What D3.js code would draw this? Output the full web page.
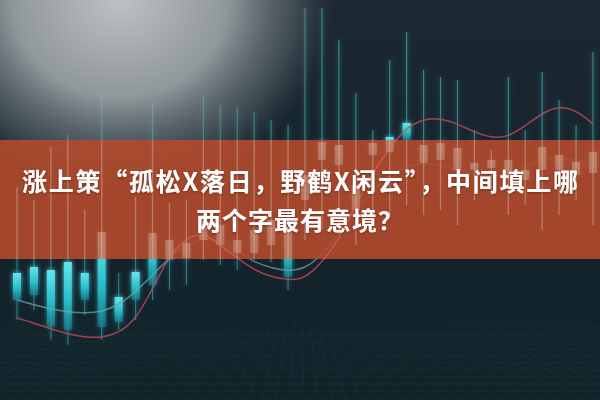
<!DOCTYPE html>
<html>
<head>
<meta charset="utf-8">
<script src="https://cdn.jsdelivr.net/npm/d3@7"></script>
<style>
  html, body { margin: 0; padding: 0; background: #14222b; }
  svg { display: block; }
</style>
</head>
<body>
<div id="chart"></div>
<script>
// candle values (price units, 0..100)
const highs  = [53.25, 50, 63.25, 66.25, 47.5, 75.75, 31.75, 50.75, 74.25, 49.25, 50, 76.25, 73.75, 73.25, 72, 70, 68.75, 98, 98, 90, 76.75, 67.5, 85, 92, 82.5, 80.75, 80, 67.5, 62.5, 80.75, 67.5, 82, 75, 68.75, 87];
const lows   = [20, 22.5, 15, 13.75, 21.25, 15, 17.5, 20, 25, 27.5, 28.75, 35, 33.75, 32.5, 35, 34.5, 27.5, 40, 42.5, 41.25, 38.75, 45, 46.25, 48.75, 46.25, 47.5, 43.75, 50, 51.25, 46.25, 48.75, 42.5, 46.25, 50, 43.75];
const opens  = [25, 26.25, 18.25, 17.5, 25, 18.25, 19.5, 25, 28.75, 35, 35.5, 40, 38.75, 36.75, 36.75, 38.75, 30.75, 50, 60, 58.75, 47.5, 61.25, 62, 65, 59.25, 60, 57.5, 57.5, 58, 55, 55, 57.5, 57.5, 56.25, 56.75];
const closes = [31.75, 33.25, 32.5, 34.5, 31.75, 42, 25.75, 32, 41.75, 40, 39.25, 46.25, 43.75, 40, 42.5, 45, 42.5, 56.25, 64.5, 63.75, 53.75, 64.25, 65.75, 69.25, 63.75, 64.25, 63, 59.25, 60, 60, 57.5, 63.25, 61.25, 59.5, 62];

// two moving-average lines
const maRed  = [20.5, 19.25, 17.75, 16.5, 15.75, 15.5, 16.75, 20, 27.75, 36.25, 40.5, 42, 38.75, 35.5, 32.5, 30.75, 30, 30.25, 34.5, 40, 48.75, 57, 63, 68.25, 70.25, 70.5, 69, 67, 65.5, 65.75, 68.5, 71.75, 73.5, 72.5, 69];
const maTeal = [25, 23.75, 22.75, 22, 21.75, 22, 23.75, 27, 31.25, 35.5, 38.75, 40.5, 40, 37, 34.5, 33, 32.25, 32.75, 36.25, 41.25, 47.5, 52.5, 56.25, 58.5, 59.25, 58.75, 57.5, 56.25, 55.75, 56.25, 58, 60, 60.75, 60, 58];

const titleLines = ["涨上策“孤松X落日，野鹤X闲云”，中间填上哪", "两个字最有意境？"];

const width = 600, height = 400;
const band = { top: 140, bottom: 259 };

const candles = highs.map((h, i) => ({ i, high: h, low: lows[i], open: opens[i], close: closes[i] }));

const svg = d3.select("#chart").append("svg")
  .attr("width", width)
  .attr("height", height)
  .attr("viewBox", [0, 0, width, height]);

const defs = svg.append("defs");

// background gradient
const bg = defs.append("linearGradient").attr("id", "bg").attr("x1", 0).attr("y1", 0).attr("x2", 0).attr("y2", 1);
bg.append("stop").attr("offset", "0%").attr("stop-color", "#1c2832");
bg.append("stop").attr("offset", "60%").attr("stop-color", "#14232c");
bg.append("stop").attr("offset", "100%").attr("stop-color", "#112329");

// grey haze in top-left
const fog = defs.append("radialGradient").attr("id", "fog");
fog.append("stop").attr("offset", "0%").attr("stop-color", "#c4c8ca").attr("stop-opacity", 0.96);
fog.append("stop").attr("offset", "50%").attr("stop-color", "#aab0b3").attr("stop-opacity", 0.82);
fog.append("stop").attr("offset", "82%").attr("stop-color", "#6f7a7e").attr("stop-opacity", 0.42);
fog.append("stop").attr("offset", "100%").attr("stop-color", "#4a565b").attr("stop-opacity", 0);

// body fill: bright top fading down
const bodyGrad = defs.append("linearGradient").attr("id", "body").attr("x1", 0).attr("y1", 0).attr("x2", 0).attr("y2", 1);
bodyGrad.append("stop").attr("offset", "0%").attr("stop-color", "#66e8f0");
bodyGrad.append("stop").attr("offset", "55%").attr("stop-color", "#2ac0cf");
bodyGrad.append("stop").attr("offset", "100%").attr("stop-color", "#1a8597").attr("stop-opacity", 0.6);

// wick: a little brighter at the top
const wickGrad = defs.append("linearGradient").attr("id", "wick")
  .attr("gradientUnits", "userSpaceOnUse").attr("x1", 0).attr("y1", 0).attr("x2", 0).attr("y2", height);
wickGrad.append("stop").attr("offset", "0%").attr("stop-color", "#49c4c4");
wickGrad.append("stop").attr("offset", "100%").attr("stop-color", "#2aa7b6");

const glow = defs.append("filter").attr("id", "glow").attr("x", "-100%").attr("y", "-30%").attr("width", "300%").attr("height", "160%");
glow.append("feGaussianBlur").attr("stdDeviation", 2.5).attr("result", "b");
const merge = glow.append("feMerge");
merge.append("feMergeNode").attr("in", "b");
merge.append("feMergeNode").attr("in", "SourceGraphic");

const soft = defs.append("filter").attr("id", "soft");
soft.append("feGaussianBlur").attr("stdDeviation", 0.6);

const shadow = defs.append("filter").attr("id", "shadow").attr("x", "-5%").attr("y", "-20%").attr("width", "110%").attr("height", "140%");
shadow.append("feDropShadow").attr("dx", 0).attr("dy", 1).attr("stdDeviation", 1.2).attr("flood-color", "#5a1a0c").attr("flood-opacity", 0.6);

defs.append("clipPath").attr("id", "bandClip")
  .append("rect").attr("x", 0).attr("y", band.top).attr("width", width).attr("height", band.bottom - band.top);

// scales
const x = d3.scalePoint()
  .domain(d3.range(candles.length))
  .range([17, 593]);

const y = d3.scaleLinear()
  .domain([0, 100])
  .range([height, 0]);

const bodyW = 8;

svg.append("rect").attr("width", width).attr("height", height).attr("fill", "url(#bg)");

// faint floor texture at the bottom
const floor = svg.append("g").attr("opacity", 0.12).attr("stroke", "#4f8f98").attr("stroke-width", 0.6);
floor.selectAll("line.h").data(d3.range(335, 400, 7)).join("line")
  .attr("x1", 0).attr("x2", width).attr("y1", d => d).attr("y2", d => d);
floor.selectAll("line.v").data(d3.range(-200, 820, 14)).join("line")
  .attr("x1", d => 300 + (d - 300) * 0.55).attr("y1", 320)
  .attr("x2", d => d).attr("y2", 400);

// candles
function drawCandles(g, wickColor, wickOpacity, wickWidth, bodyFill, bodyOpacity) {
  g.selectAll("line")
    .data(candles)
    .join("line")
      .attr("x1", d => x(d.i))
      .attr("x2", d => x(d.i))
      .attr("y1", d => y(d.high))
      .attr("y2", d => y(d.low))
      .attr("stroke", wickColor)
      .attr("stroke-width", wickWidth)
      .attr("stroke-opacity", wickOpacity);

  g.selectAll("rect")
    .data(candles)
    .join("rect")
      .attr("x", d => x(d.i) - bodyW / 2)
      .attr("y", d => y(Math.max(d.open, d.close)))
      .attr("width", bodyW)
      .attr("height", d => Math.abs(y(d.open) - y(d.close)))
      .attr("fill", bodyFill)
      .attr("fill-opacity", bodyOpacity);
}

const candleG = svg.append("g").attr("filter", "url(#glow)");
drawCandles(candleG, "url(#wick)", 0.62, 1.1, "url(#body)", 0.95);

// moving averages
const line = d3.line()
  .x((d, i) => x(i))
  .y(d => y(d))
  .curve(d3.curveBasis);

svg.append("path")
  .datum(maTeal)
  .attr("d", line)
  .attr("fill", "none")
  .attr("stroke", "#6fa9b2")
  .attr("stroke-width", 1.5)
  .attr("stroke-opacity", 0.7);

svg.append("path")
  .datum(maRed)
  .attr("d", line)
  .attr("fill", "none")
  .attr("stroke", "#c9485c")
  .attr("stroke-width", 1.5)
  .attr("stroke-opacity", 0.8);

// haze over the upper left
svg.append("ellipse")
  .attr("cx", 120).attr("cy", 0)
  .attr("rx", 215).attr("ry", 195)
  .attr("fill", "url(#fog)");

// red band
svg.append("rect")
  .attr("x", 0).attr("y", band.top)
  .attr("width", width).attr("height", band.bottom - band.top)
  .attr("fill", "#b24a2c")
  .attr("fill-opacity", 0.9);

// candles seen through the band as pale strips
const paleG = svg.append("g").attr("clip-path", "url(#bandClip)").attr("filter", "url(#soft)");
drawCandles(paleG, "#f3d6c8", 0.32, 1.3, "#f5e1d6", 0.26);

svg.append("g").attr("clip-path", "url(#bandClip)")
  .append("path")
  .datum(maRed)
  .attr("d", line)
  .attr("fill", "none")
  .attr("stroke", "#e87a78")
  .attr("stroke-width", 1.4)
  .attr("stroke-opacity", 0.4);

// title
const title = svg.append("g")
  .attr("font-family", "'Noto Sans CJK SC', 'Noto Sans', sans-serif")
  .attr("font-weight", 700)
  .attr("font-size", 25)
  .attr("fill", "#ffffff")
  .attr("text-anchor", "middle")
  .attr("filter", "url(#shadow)");

title.append("text")
  .attr("x", 300).attr("y", 191)
  .attr("textLength", 556)
  .attr("lengthAdjust", "spacing")
  .text(titleLines[0]);

title.append("text")
  .attr("x", 300).attr("y", 230)
  .attr("letter-spacing", 1)
  .text(titleLines[1]);
</script>
</body>
</html>
